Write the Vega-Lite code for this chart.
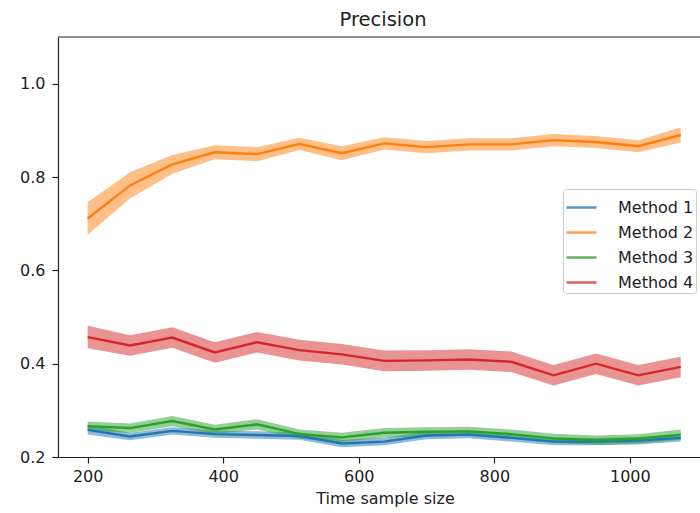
{
  "$schema": "https://vega.github.io/schema/vega-lite/v6.json",
  "autosize": {"type": "none"},
  "padding": {"left": 58, "top": 37, "right": 0, "bottom": 56},
  "width": 642,
  "height": 420,
  "background": "white",
  "config": {
    "font": "DejaVu Sans",
    "view": {"stroke": null},
    "axis": {
      "grid": false,
      "domain": true,
      "domainColor": "#222",
      "domainWidth": 1.2,
      "tickColor": "#222",
      "tickSize": 6,
      "tickWidth": 1.2,
      "labelColor": "#222",
      "labelFontSize": 16,
      "titleColor": "#222",
      "titleFontSize": 16,
      "titleFontWeight": "normal",
      "labelPadding": 5
    }
  },
  "title": {"text": "Precision", "fontSize": 19.5, "fontWeight": "normal", "color": "#222", "offset": 6, "dx": 4},
  "datasets": {
    "d": [
      {"method": "Method 1", "x": 200, "y": 0.258, "lo": 0.248, "hi": 0.268},
      {"method": "Method 1", "x": 262.5, "y": 0.244, "lo": 0.236, "hi": 0.252},
      {"method": "Method 1", "x": 325, "y": 0.256, "lo": 0.248, "hi": 0.264},
      {"method": "Method 1", "x": 387.5, "y": 0.249, "lo": 0.241, "hi": 0.257},
      {"method": "Method 1", "x": 450, "y": 0.247, "lo": 0.239, "hi": 0.255},
      {"method": "Method 1", "x": 512.5, "y": 0.245, "lo": 0.237, "hi": 0.253},
      {"method": "Method 1", "x": 575, "y": 0.229, "lo": 0.221, "hi": 0.237},
      {"method": "Method 1", "x": 637.5, "y": 0.233, "lo": 0.225, "hi": 0.241},
      {"method": "Method 1", "x": 700, "y": 0.246, "lo": 0.238, "hi": 0.254},
      {"method": "Method 1", "x": 762.5, "y": 0.248, "lo": 0.240, "hi": 0.256},
      {"method": "Method 1", "x": 825, "y": 0.241, "lo": 0.233, "hi": 0.249},
      {"method": "Method 1", "x": 887.5, "y": 0.233, "lo": 0.225, "hi": 0.241},
      {"method": "Method 1", "x": 950, "y": 0.233, "lo": 0.225, "hi": 0.241},
      {"method": "Method 1", "x": 1012.5, "y": 0.235, "lo": 0.227, "hi": 0.243},
      {"method": "Method 1", "x": 1075, "y": 0.241, "lo": 0.233, "hi": 0.249},
      {"method": "Method 2", "x": 200, "y": 0.711, "lo": 0.676, "hi": 0.746},
      {"method": "Method 2", "x": 262.5, "y": 0.782, "lo": 0.754, "hi": 0.810},
      {"method": "Method 2", "x": 325, "y": 0.827, "lo": 0.807, "hi": 0.847},
      {"method": "Method 2", "x": 387.5, "y": 0.853, "lo": 0.838, "hi": 0.868},
      {"method": "Method 2", "x": 450, "y": 0.849, "lo": 0.834, "hi": 0.864},
      {"method": "Method 2", "x": 512.5, "y": 0.871, "lo": 0.858, "hi": 0.884},
      {"method": "Method 2", "x": 575, "y": 0.851, "lo": 0.836, "hi": 0.866},
      {"method": "Method 2", "x": 637.5, "y": 0.872, "lo": 0.859, "hi": 0.885},
      {"method": "Method 2", "x": 700, "y": 0.864, "lo": 0.851, "hi": 0.877},
      {"method": "Method 2", "x": 762.5, "y": 0.870, "lo": 0.857, "hi": 0.883},
      {"method": "Method 2", "x": 825, "y": 0.870, "lo": 0.857, "hi": 0.883},
      {"method": "Method 2", "x": 887.5, "y": 0.879, "lo": 0.866, "hi": 0.892},
      {"method": "Method 2", "x": 950, "y": 0.875, "lo": 0.862, "hi": 0.888},
      {"method": "Method 2", "x": 1012.5, "y": 0.866, "lo": 0.853, "hi": 0.879},
      {"method": "Method 2", "x": 1075, "y": 0.890, "lo": 0.874, "hi": 0.906},
      {"method": "Method 3", "x": 200, "y": 0.266, "lo": 0.256, "hi": 0.276},
      {"method": "Method 3", "x": 262.5, "y": 0.262, "lo": 0.252, "hi": 0.272},
      {"method": "Method 3", "x": 325, "y": 0.277, "lo": 0.266, "hi": 0.288},
      {"method": "Method 3", "x": 387.5, "y": 0.259, "lo": 0.249, "hi": 0.269},
      {"method": "Method 3", "x": 450, "y": 0.270, "lo": 0.259, "hi": 0.281},
      {"method": "Method 3", "x": 512.5, "y": 0.249, "lo": 0.239, "hi": 0.259},
      {"method": "Method 3", "x": 575, "y": 0.242, "lo": 0.232, "hi": 0.252},
      {"method": "Method 3", "x": 637.5, "y": 0.252, "lo": 0.242, "hi": 0.262},
      {"method": "Method 3", "x": 700, "y": 0.254, "lo": 0.244, "hi": 0.264},
      {"method": "Method 3", "x": 762.5, "y": 0.255, "lo": 0.245, "hi": 0.265},
      {"method": "Method 3", "x": 825, "y": 0.249, "lo": 0.239, "hi": 0.259},
      {"method": "Method 3", "x": 887.5, "y": 0.240, "lo": 0.230, "hi": 0.250},
      {"method": "Method 3", "x": 950, "y": 0.236, "lo": 0.226, "hi": 0.246},
      {"method": "Method 3", "x": 1012.5, "y": 0.239, "lo": 0.229, "hi": 0.249},
      {"method": "Method 3", "x": 1075, "y": 0.248, "lo": 0.237, "hi": 0.259},
      {"method": "Method 4", "x": 200, "y": 0.457, "lo": 0.433, "hi": 0.481},
      {"method": "Method 4", "x": 262.5, "y": 0.439, "lo": 0.417, "hi": 0.461},
      {"method": "Method 4", "x": 325, "y": 0.456, "lo": 0.434, "hi": 0.478},
      {"method": "Method 4", "x": 387.5, "y": 0.424, "lo": 0.402, "hi": 0.446},
      {"method": "Method 4", "x": 450, "y": 0.446, "lo": 0.424, "hi": 0.468},
      {"method": "Method 4", "x": 512.5, "y": 0.429, "lo": 0.407, "hi": 0.451},
      {"method": "Method 4", "x": 575, "y": 0.420, "lo": 0.398, "hi": 0.442},
      {"method": "Method 4", "x": 637.5, "y": 0.406, "lo": 0.384, "hi": 0.428},
      {"method": "Method 4", "x": 700, "y": 0.407, "lo": 0.385, "hi": 0.429},
      {"method": "Method 4", "x": 762.5, "y": 0.409, "lo": 0.387, "hi": 0.431},
      {"method": "Method 4", "x": 825, "y": 0.404, "lo": 0.382, "hi": 0.426},
      {"method": "Method 4", "x": 887.5, "y": 0.375, "lo": 0.353, "hi": 0.397},
      {"method": "Method 4", "x": 950, "y": 0.400, "lo": 0.378, "hi": 0.422},
      {"method": "Method 4", "x": 1012.5, "y": 0.375, "lo": 0.353, "hi": 0.397},
      {"method": "Method 4", "x": 1075, "y": 0.393, "lo": 0.371, "hi": 0.415}
    ]
  },
  "data": {"name": "d"},
  "encoding": {
    "x": {
      "field": "x", "type": "quantitative",
      "scale": {"domain": [156.25, 1103.5], "nice": false, "zero": false},
      "axis": {"values": [200, 400, 600, 800, 1000], "format": "d", "title": "Time sample size", "titlePadding": 6, "titleX": 327, "labelFlush": false}
    },
    "color": {
      "field": "method", "type": "nominal",
      "scale": {"domain": ["Method 1", "Method 2", "Method 3", "Method 4"], "range": ["#1f77b4", "#ff7f0e", "#2ca02c", "#d62728"]},
      "legend": {
        "title": null,
        "orient": "none",
        "legendX": 505,
        "legendY": 152,
        "symbolType": "stroke",
        "symbolSize": 900,
        "symbolStrokeWidth": 2.5,
        "symbolOpacity": 0.75,
        "symbolFillColor": "transparent",
        "labelFontSize": 16,
        "labelColor": "#222",
        "labelOffset": 20,
        "rowPadding": -3,
        "padding": 2,
        "fillColor": "white",
        "strokeColor": "#cccccc",
        "cornerRadius": 3
      }
    }
  },
  "layer": [
    {
      "mark": {"type": "area", "opacity": 0.5, "clip": true},
      "encoding": {
        "y": {"field": "lo", "type": "quantitative", "scale": {"domain": [0.2, 1.1], "nice": false, "zero": false},
          "axis": {"values": [0.2, 0.4, 0.6, 0.8, 1.0], "format": ".1f", "title": null, "labelFlush": false, "labelPadding": 7}},
        "y2": {"field": "hi"}
      }
    },
    {
      "mark": {"type": "line", "strokeWidth": 2.4, "clip": true},
      "encoding": {
        "y": {"field": "y", "type": "quantitative"}
      }
    },
    {
      "data": {"values": [{"top": 1.1}]},
      "mark": {"type": "rule", "color": "#222", "strokeWidth": 1.2},
      "encoding": {
        "y": {"field": "top", "type": "quantitative"},
        "x": {"value": 0},
        "x2": {"value": 642},
        "color": {"value": "#222"}
      }
    }
  ]
}
